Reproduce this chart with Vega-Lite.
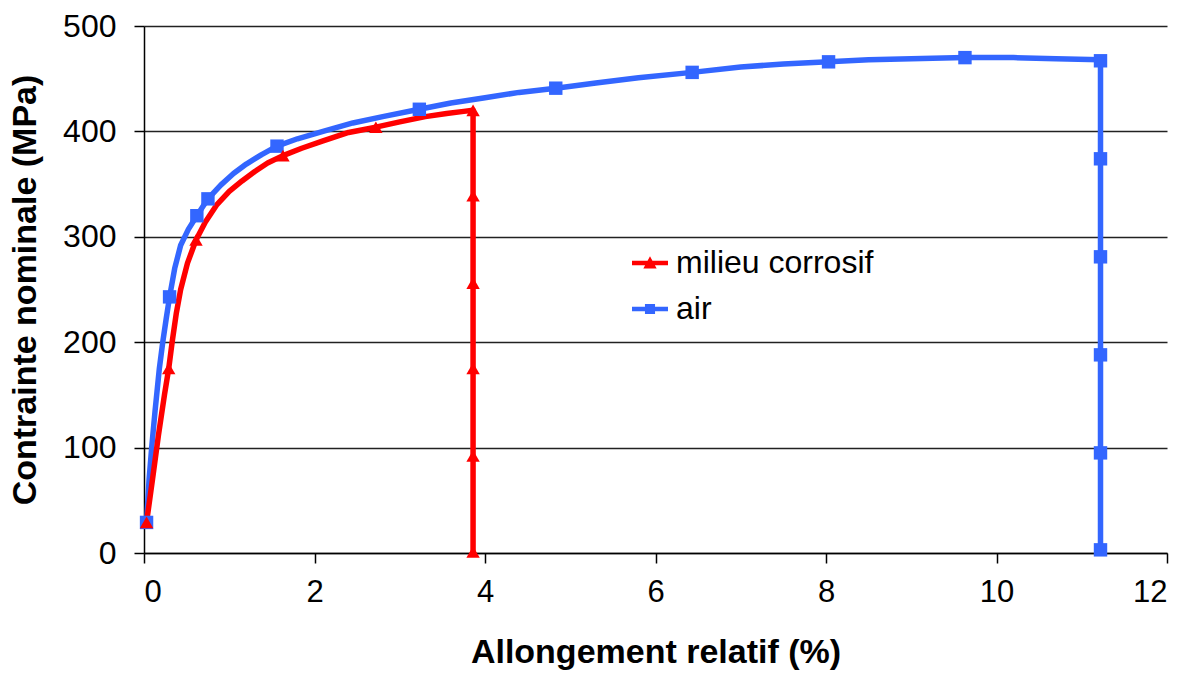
{
  "$schema": "https://vega.github.io/schema/vega-lite/v6.json",
  "width": 1023,
  "height": 527,
  "autosize": {"type": "none"},
  "padding": {"left": 144, "top": 26, "right": 29, "bottom": 126},
  "background": "white",
  "config": {
    "view": {"stroke": null},
    "font": "Liberation Sans",
    "axis": {
      "labelFont": "Liberation Sans",
      "titleFont": "Liberation Sans",
      "labelColor": "black",
      "titleColor": "black",
      "domainColor": "black",
      "tickColor": "black",
      "domainWidth": 1.5,
      "tickWidth": 1.5,
      "gridColor": "#222222",
      "gridWidth": 1.3,
      "gridOpacity": 1
    }
  },
  "datasets": {
    "curves": [
      {"series": "air", "x": 0.03, "y": 29},
      {"series": "air", "x": 0.06, "y": 70},
      {"series": "air", "x": 0.09, "y": 100},
      {"series": "air", "x": 0.13, "y": 135},
      {"series": "air", "x": 0.18, "y": 175},
      {"series": "air", "x": 0.22, "y": 200},
      {"series": "air", "x": 0.26, "y": 222},
      {"series": "air", "x": 0.30, "y": 243},
      {"series": "air", "x": 0.36, "y": 270},
      {"series": "air", "x": 0.43, "y": 292},
      {"series": "air", "x": 0.52, "y": 307},
      {"series": "air", "x": 0.62, "y": 320},
      {"series": "air", "x": 0.75, "y": 336},
      {"series": "air", "x": 0.9, "y": 349},
      {"series": "air", "x": 1.05, "y": 360},
      {"series": "air", "x": 1.2, "y": 369},
      {"series": "air", "x": 1.38, "y": 378},
      {"series": "air", "x": 1.56, "y": 386},
      {"series": "air", "x": 1.8, "y": 393},
      {"series": "air", "x": 2.1, "y": 400},
      {"series": "air", "x": 2.45, "y": 408},
      {"series": "air", "x": 2.8, "y": 414},
      {"series": "air", "x": 3.23, "y": 421},
      {"series": "air", "x": 3.6, "y": 427},
      {"series": "air", "x": 4.0, "y": 432},
      {"series": "air", "x": 4.4, "y": 437},
      {"series": "air", "x": 4.83, "y": 441},
      {"series": "air", "x": 5.3, "y": 446},
      {"series": "air", "x": 5.8, "y": 451},
      {"series": "air", "x": 6.43, "y": 456},
      {"series": "air", "x": 7.0, "y": 461},
      {"series": "air", "x": 7.5, "y": 464},
      {"series": "air", "x": 8.03, "y": 466},
      {"series": "air", "x": 8.5, "y": 468},
      {"series": "air", "x": 9.0, "y": 469},
      {"series": "air", "x": 9.63, "y": 470},
      {"series": "air", "x": 10.2, "y": 470},
      {"series": "air", "x": 10.7, "y": 469},
      {"series": "air", "x": 11.22, "y": 468},
      {"series": "air", "x": 11.22, "y": 374},
      {"series": "air", "x": 11.22, "y": 281},
      {"series": "air", "x": 11.22, "y": 188},
      {"series": "air", "x": 11.22, "y": 95},
      {"series": "air", "x": 11.22, "y": 3},
      {"series": "milieu corrosif", "x": 0.03, "y": 29},
      {"series": "milieu corrosif", "x": 0.10, "y": 70},
      {"series": "milieu corrosif", "x": 0.17, "y": 112},
      {"series": "milieu corrosif", "x": 0.24, "y": 150},
      {"series": "milieu corrosif", "x": 0.29, "y": 175},
      {"series": "milieu corrosif", "x": 0.33, "y": 200},
      {"series": "milieu corrosif", "x": 0.38, "y": 228},
      {"series": "milieu corrosif", "x": 0.43, "y": 250},
      {"series": "milieu corrosif", "x": 0.51, "y": 275},
      {"series": "milieu corrosif", "x": 0.61, "y": 297},
      {"series": "milieu corrosif", "x": 0.72, "y": 314},
      {"series": "milieu corrosif", "x": 0.85, "y": 330},
      {"series": "milieu corrosif", "x": 1.0, "y": 343},
      {"series": "milieu corrosif", "x": 1.15, "y": 353},
      {"series": "milieu corrosif", "x": 1.3, "y": 362},
      {"series": "milieu corrosif", "x": 1.45, "y": 370},
      {"series": "milieu corrosif", "x": 1.63, "y": 377},
      {"series": "milieu corrosif", "x": 1.85, "y": 384},
      {"series": "milieu corrosif", "x": 2.1, "y": 391},
      {"series": "milieu corrosif", "x": 2.4, "y": 399},
      {"series": "milieu corrosif", "x": 2.72, "y": 404},
      {"series": "milieu corrosif", "x": 3.0, "y": 409},
      {"series": "milieu corrosif", "x": 3.3, "y": 414},
      {"series": "milieu corrosif", "x": 3.55, "y": 417},
      {"series": "milieu corrosif", "x": 3.75, "y": 419},
      {"series": "milieu corrosif", "x": 3.86, "y": 420},
      {"series": "milieu corrosif", "x": 3.86, "y": 339},
      {"series": "milieu corrosif", "x": 3.86, "y": 256},
      {"series": "milieu corrosif", "x": 3.86, "y": 175},
      {"series": "milieu corrosif", "x": 3.86, "y": 92},
      {"series": "milieu corrosif", "x": 3.86, "y": 1}
    ],
    "markers": [
      {"series": "air", "x": 0.03, "y": 29},
      {"series": "air", "x": 0.30, "y": 243},
      {"series": "air", "x": 0.62, "y": 320},
      {"series": "air", "x": 0.75, "y": 336},
      {"series": "air", "x": 1.56, "y": 386},
      {"series": "air", "x": 3.23, "y": 421},
      {"series": "air", "x": 4.83, "y": 441},
      {"series": "air", "x": 6.43, "y": 456},
      {"series": "air", "x": 8.03, "y": 466},
      {"series": "air", "x": 9.63, "y": 470},
      {"series": "air", "x": 11.22, "y": 467},
      {"series": "air", "x": 11.22, "y": 374},
      {"series": "air", "x": 11.22, "y": 281},
      {"series": "air", "x": 11.22, "y": 188},
      {"series": "air", "x": 11.22, "y": 95},
      {"series": "air", "x": 11.22, "y": 3},
      {"series": "milieu corrosif", "x": 0.03, "y": 29},
      {"series": "milieu corrosif", "x": 0.29, "y": 175},
      {"series": "milieu corrosif", "x": 0.61, "y": 297},
      {"series": "milieu corrosif", "x": 1.63, "y": 377},
      {"series": "milieu corrosif", "x": 2.72, "y": 404},
      {"series": "milieu corrosif", "x": 3.86, "y": 420},
      {"series": "milieu corrosif", "x": 3.86, "y": 339},
      {"series": "milieu corrosif", "x": 3.86, "y": 256},
      {"series": "milieu corrosif", "x": 3.86, "y": 175},
      {"series": "milieu corrosif", "x": 3.86, "y": 92},
      {"series": "milieu corrosif", "x": 3.86, "y": 1}
    ]
  },
  "encoding": {
    "x": {
      "field": "x",
      "type": "quantitative",
      "scale": {"domain": [0, 12], "nice": false, "zero": false},
      "axis": {
        "values": [0, 2, 4, 6, 8, 10, 12],
        "format": "d",
        "grid": false,
        "title": "Allongement relatif (%)",
        "labelFontSize": 31,
        "titleFontSize": 34,
        "titleFontWeight": "bold",
        "tickSize": 10,
        "labelPadding": 14,
        "titlePadding": 28
      }
    },
    "y": {
      "field": "y",
      "type": "quantitative",
      "scale": {"domain": [0, 500], "nice": false},
      "axis": {
        "values": [0, 100, 200, 300, 400, 500],
        "format": "d",
        "grid": true,
        "title": "Contrainte nominale (MPa)",
        "labelFontSize": 32,
        "titleFontSize": 34,
        "titleFontWeight": "bold",
        "tickSize": 10,
        "labelPadding": 18,
        "titlePadding": 20
      }
    }
  },
  "layer": [
    {
      "data": {"name": "curves"},
      "mark": {"type": "line", "strokeWidth": 5.5, "strokeJoin": "round"},
      "encoding": {
        "color": {
          "field": "series",
          "type": "nominal",
          "scale": {"domain": ["milieu corrosif", "air"], "range": ["#FF0000", "#3366FF"]},
          "legend": null
        },
        "order": {"value": null}
      }
    },
    {
      "data": {"name": "markers"},
      "mark": {"type": "point", "filled": true, "opacity": 1, "size": 180},
      "encoding": {
        "color": {
          "field": "series",
          "type": "nominal",
          "scale": {"domain": ["milieu corrosif", "air"], "range": ["#FF0000", "#3366FF"]},
          "legend": null
        },
        "shape": {
          "field": "series",
          "type": "nominal",
          "scale": {"domain": ["milieu corrosif", "air"], "range": ["triangle-up", "square"]},
          "legend": null
        }
      }
    },
    {
      "data": {"name": "markers"},
      "mark": {"type": "point", "filled": true, "opacity": 0},
      "encoding": {
        "color": {
          "field": "series",
          "type": "nominal",
          "scale": {"domain": ["milieu corrosif", "air"], "range": ["#FF0000", "#3366FF"]},
          "legend": {
            "title": null,
            "orient": "none",
            "legendX": 488,
            "legendY": 219,
            "symbolSize": 1296,
            "symbolOpacity": 1,
            "symbolStrokeWidth": 0,
            "labelFont": "Liberation Sans",
            "labelFontSize": 32,
            "labelColor": "black",
            "labelLimit": 400,
            "labelOffset": 8,
            "rowPadding": 12,
            "padding": 0
          }
        },
        "shape": {
          "field": "series",
          "type": "nominal",
          "scale": {
            "domain": ["milieu corrosif", "air"],
            "range": [
              "M-1,-0.12H1V0.12H-1Z M0,-0.38L0.37,0.3H-0.37Z",
              "M-1,-0.12H1V0.12H-1Z M-0.28,-0.28H0.28V0.28H-0.28Z"
            ]
          },
          "legend": {
            "title": null,
            "orient": "none",
            "legendX": 488,
            "legendY": 219,
            "symbolSize": 1296,
            "symbolOpacity": 1,
            "symbolStrokeWidth": 0,
            "labelFont": "Liberation Sans",
            "labelFontSize": 32,
            "labelColor": "black",
            "labelLimit": 400,
            "labelOffset": 8,
            "rowPadding": 12,
            "padding": 0
          }
        }
      }
    }
  ],
  "resolve": {"scale": {"color": "independent", "shape": "independent"}}
}
